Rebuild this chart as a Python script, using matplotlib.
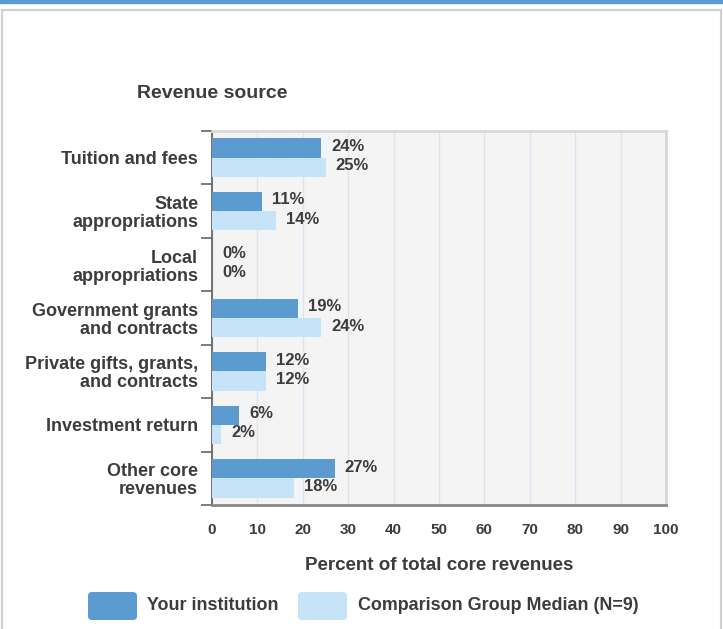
import numpy as np
import matplotlib.pyplot as plt
from matplotlib.patches import FancyBboxPatch, Rectangle

categories = ["Tuition and fees", "State\nappropriations", "Local\nappropriations",
              "Government grants\nand contracts", "Private gifts, grants,\nand contracts",
              "Investment return", "Other core\nrevenues"]
your_inst = [24, 11, 0, 19, 12, 6, 27]
comparison = [25, 14, 0, 24, 12, 2, 18]
series_names = ["Your institution", "Comparison Group Median (N=9)"]
xticks = list(range(0, 101, 10))

dark = "#5b9bd0"
light = "#c6e3f7"
txt = "#3c3c3c"

plt.rcParams['font.family'] = ['Liberation Sans', 'DejaVu Sans']
plt.rcParams['font.weight'] = 'bold'

fig = plt.figure(figsize=(7.23, 6.29), dpi=100)
W, H = 723, 629

# page frame
fig.patches.append(Rectangle((0, 1 - 3 / H), 1, 3 / H, transform=fig.transFigure,
                             color=dark, zorder=-2))
fig.patches.append(Rectangle((2 / W, -0.01), 719 / W, 1 - 10 / H + 0.01,
                             transform=fig.transFigure, facecolor="white",
                             edgecolor="#d0d0d0", lw=1.5, zorder=-2))

ax = fig.add_axes([212 / W, 1 - 505 / H, 454 / W, 374 / H])
ax.set_zorder(2)
ax.set_facecolor("#f4f4f4")

y = np.arange(len(categories))
h = 0.36
ax.barh(y - h / 2, your_inst, height=h, color=dark, zorder=3)
ax.barh(y + h / 2, comparison, height=h, color=light, zorder=3)

for i in range(len(categories)):
    ax.text(your_inst[i] + 2.2, y[i] - h / 2 - 0.03, f"{your_inst[i]}%", va="center",
            ha="left", fontsize=12, color=txt)
    ax.text(comparison[i] + 2.2, y[i] + h / 2 - 0.03, f"{comparison[i]}%", va="center",
            ha="left", fontsize=12, color=txt)

ax.set_xlim(0, 100)
ax.set_ylim(len(categories) - 0.5, -0.5)
ax.set_xticks(xticks)
ax.set_xticklabels([str(t) for t in xticks], fontsize=11, color=txt)
ax.tick_params(axis="x", length=0, pad=13)
ax.set_yticks(y)
ax.set_yticklabels(categories, fontsize=13, color=txt, linespacing=1.08)
ax.tick_params(axis="y", which="major", length=0, pad=10)
ax.set_yticks(np.arange(-0.5, len(categories)), minor=True)
ax.tick_params(axis="y", which="minor", length=8, width=1.2, color="#666666")

ax.grid(axis="x", color="#dce4f0", lw=1, zorder=1)
ax.set_axisbelow(True)
for s in ["top", "right"]:
    ax.spines[s].set_color("#d8d8d8")
    ax.spines[s].set_linewidth(2)
ax.spines["left"].set_color("#666666")
ax.spines["left"].set_linewidth(1.3)
ax.spines["bottom"].set_color("#888888")
ax.spines["bottom"].set_linewidth(2)

ax.set_xlabel("Percent of total core revenues", fontsize=13.5, color=txt,
              fontweight="bold", labelpad=14)
fig.text(137 / W, 1 - 93 / H, "Revenue source", fontsize=14, color=txt, va="center")

# legend
for x0, col, name, tx in [(88, dark, series_names[0], 147), (298, light, series_names[1], 358)]:
    fig.patches.append(FancyBboxPatch((x0 / W, 1 - 620 / H), 49 / W, 28 / H,
                                      boxstyle="round,pad=0,rounding_size=0.006",
                                      transform=fig.transFigure, facecolor=col,
                                      edgecolor="none"))
    fig.text(tx / W, 1 - 606 / H, name, fontsize=12.9, color=txt, va="center")

fig.savefig("out.png", dpi=100)
